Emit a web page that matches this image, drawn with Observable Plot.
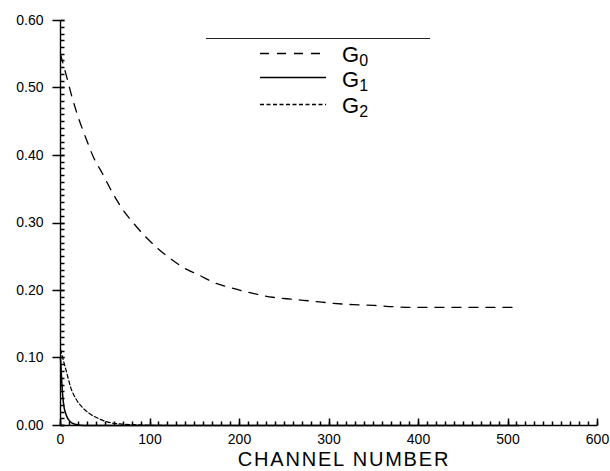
<!DOCTYPE html>
<html>
<head>
<meta charset="utf-8">
<script src="https://cdn.jsdelivr.net/npm/d3@7"></script>
<script src="https://cdn.jsdelivr.net/npm/@observablehq/plot@0.6"></script>
<style>
  html, body { margin: 0; padding: 0; background: white; }
  #wrap { position: relative; width: 610px; height: 471px; }
  #legend { position: absolute; left: 0; top: 0; }
</style>
</head>
<body>
<div id="wrap"></div>
<script>
// ---- data ----
const g0Channel = [0, 6, 13, 20, 28, 37, 47, 58, 69, 82, 97, 120, 140, 156, 171, 193, 214, 237, 259, 283, 305, 327, 350, 372, 394, 420, 450, 480, 512];
const g0Value   = [0.550, 0.521, 0.486, 0.456, 0.427, 0.397, 0.373, 0.345, 0.321, 0.299, 0.277, 0.250, 0.232, 0.222, 0.212, 0.203, 0.196, 0.190, 0.187, 0.184, 0.181, 0.179, 0.178, 0.176, 0.175, 0.175, 0.175, 0.175, 0.175];

const g1Channel = [0, 1, 2, 3, 4, 5.5, 7.5, 10, 13, 17, 22, 30, 60, 120, 250, 512];
const g1Value   = [0.100, 0.075, 0.052, 0.037, 0.027, 0.019, 0.012, 0.007, 0.0035, 0.0015, 0.0005, 0, 0, 0, 0, 0];

const g2Channel = [0, 3.5, 8, 11, 17, 25, 32, 43, 53, 69, 85, 100, 130, 250, 512];
const g2Value   = [0.113, 0.095, 0.073, 0.058, 0.040, 0.026, 0.018, 0.010, 0.005, 0.002, 0.001, 0.0003, 0, 0, 0];

const xMajorTicks = [0, 100, 200, 300, 400, 500, 600];
const xMinorTicks = d3.range(0, 601, 10);
const yMajorTicks = [0, 0.1, 0.2, 0.3, 0.4, 0.5, 0.6];
const yMinorTicks = d3.range(0, 61).map(i => i / 100);

const seriesNames = ["0", "1", "2"];   // G subscripts
const xTitle = "CHANNEL NUMBER";

// ---- build tables ----
const g0 = g0Channel.map((c, i) => ({c, v: g0Value[i]}));
const g1 = g1Channel.map((c, i) => ({c, v: g1Value[i]}));
const g2 = g2Channel.map((c, i) => ({c, v: g2Value[i]}));

const W = 610, H = 471;

const plot = Plot.plot({
  width: W,
  height: H,
  marginLeft: 60,
  marginRight: 13,
  marginTop: 20,
  marginBottom: 46,
  x: {domain: [0, 600], axis: null},
  y: {domain: [0, 0.6], axis: null},
  style: {fontFamily: "'Liberation Sans', Arial, sans-serif", fontSize: "14px", color: "black", background: "white"},
  marks: [
    // tick labels
    Plot.axisY(yMajorTicks, {tickSize: 0, tickPadding: 17, tickFormat: d3.format(".2f"), label: null, fontSize: 14, letterSpacing: 1.3}),
    Plot.axisX(xMajorTicks, {tickSize: 0, tickPadding: 9, tickFormat: d3.format("d"), label: null, fontSize: 14}),
    // axis lines
    Plot.ruleX([0], {strokeWidth: 1.4}),
    Plot.ruleY([0], {strokeWidth: 1.4}),
    // curves
    Plot.line(g2, {x: "c", y: "v", stroke: "black", strokeWidth: 1.2, strokeDasharray: "4,2.5", curve: "monotone-x"}),
    Plot.line(g1, {x: "c", y: "v", stroke: "black", strokeWidth: 1.5, curve: "monotone-x"}),
    Plot.line(g0, {x: "c", y: "v", stroke: "black", strokeWidth: 1.3, strokeDasharray: "9,8", curve: "monotone-x"})
  ]
});

const wrap = document.getElementById("wrap");
wrap.appendChild(plot);

// ---- tick marks drawn with Plot's own scales ----
const sx = plot.scale("x"), sy = plot.scale("y");
const px = v => Math.round(v) + 0.5;
const x0 = px(sx.apply(0)), y0 = px(sy.apply(0));
const ticks = d3.select(plot).append("g")
  .attr("stroke", "black").attr("stroke-width", 1.5);
yMinorTicks.forEach(v => {
  const y = px(sy.apply(v));
  ticks.append("line").attr("x1", x0).attr("x2", x0 + 4).attr("y1", y).attr("y2", y);
});
yMajorTicks.forEach(v => {
  const y = px(sy.apply(v));
  ticks.append("line").attr("x1", x0 - 8).attr("x2", x0 + 4).attr("y1", y).attr("y2", y);
});
xMinorTicks.forEach(v => {
  const x = px(sx.apply(v));
  ticks.append("line").attr("x1", x).attr("x2", x).attr("y1", y0).attr("y2", y0 - 4);
});
xMajorTicks.forEach(v => {
  const x = px(sx.apply(v));
  ticks.append("line").attr("x1", x).attr("x2", x).attr("y1", y0).attr("y2", y0 - 7);
});

// ---- x title and legend overlay ----
const svg = d3.select(wrap).append("svg")
  .attr("id", "legend")
  .attr("width", W).attr("height", H)
  .style("font-family", "'Liberation Sans', Arial, sans-serif");

svg.append("text")
  .attr("x", 344).attr("y", 466)
  .attr("text-anchor", "middle")
  .attr("font-size", 20)
  .attr("letter-spacing", "1.8px")
  .attr("fill", "black")
  .text(xTitle);

// legend frame top line
svg.append("line")
  .attr("x1", 206).attr("x2", 430).attr("y1", 38.5).attr("y2", 38.5)
  .attr("stroke", "#222").attr("stroke-width", 1);

const dashes = ["9,8", null, "4,2.5"];
const lineY = [53, 77, 104];
const textY = [62, 87, 113];
seriesNames.forEach((s, i) => {
  const l = svg.append("line")
    .attr("x1", 260).attr("x2", 326).attr("y1", lineY[i] + 0.5).attr("y2", lineY[i] + 0.5)
    .attr("stroke", "black").attr("stroke-width", i === 1 ? 1.5 : 1.3);
  if (dashes[i]) l.attr("stroke-dasharray", dashes[i]);
  const t = svg.append("text")
    .attr("x", 342).attr("y", textY[i])
    .attr("font-size", 22).attr("fill", "black");
  t.append("tspan").text("G");
  t.append("tspan").attr("font-size", 16).attr("dy", 4).text(s);
});
</script>
</body>
</html>
